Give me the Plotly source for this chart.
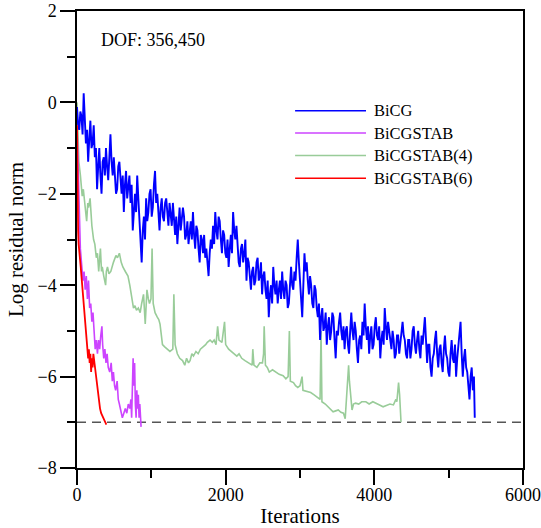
import plotly.graph_objects as go

# ---------------- data ----------------
bicg_iter = list(range(0, 5341, 15)) + [5351]
bicg_logres = [
    -0.1, -0.5, -0.6, -0.2, -0.3, -0.7, 0.2, -0.5, -0.9, -0.6,
    -1.3, -0.8, -0.4, -1.0, -0.9, -0.5, -1.2, -1.0, -1.9, -1.4,
    -1.0, -1.6, -2.0, -1.3, -1.2, -1.6, -1.0, -1.4, -1.7, -1.2,
    -0.7, -1.3, -1.6, -1.2, -1.5, -2.0, -1.9, -1.4, -1.3, -1.8,
    -2.0, -1.6, -2.4, -1.8, -1.5, -2.1, -1.9, -1.6, -2.2, -1.8,
    -2.8, -2.3, -2.0, -2.4, -1.6, -2.1, -2.6, -3.0, -3.5, -2.8,
    -2.5, -3.0, -2.1, -2.6, -2.4, -2.0, -1.9, -2.5, -2.3, -1.8,
    -1.5, -2.2, -2.0, -2.4, -2.8, -2.3, -2.1, -2.5, -2.6, -2.2,
    -2.1, -2.4, -2.7, -2.2, -2.4, -2.7, -2.2, -2.6, -2.9, -2.5,
    -3.1, -2.7, -2.3, -2.8, -2.6, -2.3, -2.5, -3.0, -2.9, -2.6,
    -3.1, -2.8, -2.6, -3.0, -2.4, -2.9, -3.2, -2.7, -2.8, -3.2,
    -3.5, -2.9, -3.0, -3.3, -2.9, -3.4, -3.2, -3.5, -3.8, -3.3,
    -3.0, -3.2, -2.7, -3.1, -2.4, -2.8, -3.0, -2.5, -2.6, -3.0,
    -3.3, -2.8, -2.9, -3.3, -3.4, -3.0, -3.6, -3.2, -2.9, -3.3,
    -2.4, -2.8, -3.0, -2.7, -3.2, -3.5, -3.6, -3.2, -3.1, -3.5,
    -3.3, -3.0, -3.9, -3.4, -3.5, -3.9, -4.1, -3.7, -3.6, -4.0,
    -3.9, -3.5, -3.4, -3.9, -3.8, -3.5, -4.2, -3.8, -3.7, -4.1,
    -4.3, -3.9, -4.7, -4.2, -4.0, -4.4, -3.6, -4.0, -4.2, -3.9,
    -4.4, -4.1, -3.9, -4.3, -3.7, -4.1, -4.3, -3.9, -4.0, -4.5,
    -4.4, -4.0, -3.6, -4.0, -4.1, -3.7, -3.9, -3.4, -3.0, -3.5,
    -3.8, -4.3, -4.7, -3.9, -3.3, -3.7, -3.5, -3.9, -4.2, -3.8,
    -4.0, -4.4, -4.5, -4.0, -4.1, -4.5, -4.7, -4.4, -5.2, -4.7,
    -4.5, -5.0, -4.9, -4.6, -5.3, -4.9, -4.7, -5.2, -5.0, -4.6,
    -4.7, -5.2, -5.6, -5.0, -5.1, -4.8, -4.6, -5.0, -5.2, -4.9,
    -5.4, -5.0, -4.9, -5.3, -5.5, -5.0, -4.6, -5.0, -5.2, -4.8,
    -5.0, -5.4, -5.7, -5.2, -5.1, -5.4, -4.8, -5.1, -4.4, -4.9,
    -5.2, -4.9, -5.5, -5.1, -4.9, -5.4, -5.3, -4.9, -4.7, -5.1,
    -5.2, -4.9, -5.6, -5.2, -5.0, -5.3, -4.5, -4.9, -5.2, -4.8,
    -5.0, -5.3, -5.4, -5.0, -5.2, -5.6, -5.5, -5.1, -5.1, -5.5,
    -5.3, -5.0, -4.8, -5.1, -5.2, -5.5, -5.6, -5.2, -5.2, -5.6,
    -5.4, -5.0, -4.9, -5.3, -5.5, -5.2, -5.0, -5.4, -5.6, -5.1,
    -5.3, -5.0, -4.7, -5.2, -5.7, -5.3, -5.3, -5.8, -6.0, -5.6,
    -5.5, -5.2, -5.0, -5.5, -5.8, -5.4, -5.3, -5.7, -5.9, -5.4,
    -5.1, -5.5, -5.6, -5.9, -6.0, -5.5, -5.2, -5.6, -5.7, -5.3,
    -6.0, -5.6, -5.3, -4.9, -4.8, -5.5, -6.0, -5.6, -5.4, -5.8,
    -5.9, -6.2, -6.5, -6.0, -5.8, -6.3, -6.0,
    -6.9,
]

bicgstab_iter = [
    0, 8, 15, 25, 35, 45, 55, 65, 80, 95, 110, 125, 140, 155, 170, 185,
    200, 215, 230, 245, 260, 275, 290, 305, 320, 335, 345, 360, 375, 390,
    405, 420, 440, 460, 475, 490, 505, 520, 540, 555, 570, 590, 610, 630,
    650, 670, 690, 710, 725, 735, 745, 755, 765, 775, 785, 795, 805, 815,
    825, 835, 845, 855, 862,
]
bicgstab_logres = [
    -0.5, -1.0, -1.6, -2.3, -2.6, -3.2, -3.4, -3.6, -3.9, -3.7, -4.1, -3.8,
    -4.3, -3.9, -4.5, -4.4, -4.8, -4.6, -5.2, -5.4, -5.2, -5.5, -5.2, -5.4,
    -5.1, -4.9, -5.3, -5.6, -5.4, -5.7, -5.5, -5.8, -5.9, -5.7, -6.1, -5.9,
    -6.2, -6.3, -6.1, -6.5, -6.6, -6.8, -6.9, -6.8, -6.7, -6.8, -6.6, -6.7,
    -6.5, -6.9, -6.0, -5.6, -6.2, -5.7, -6.6, -6.9, -6.3, -6.7, -6.4, -6.9,
    -6.6, -6.9, -7.1,
]

bicgstab4_iter = [
    0, 10, 25, 46, 70, 85, 100, 115, 130, 145, 155, 176, 190, 200, 223, 240,
    260, 275, 292, 315, 330, 340, 360, 385, 395, 410, 430, 455, 490, 524,
    545, 570, 595, 617, 650, 686, 710, 733, 760, 780, 800, 825, 850, 870,
    895, 918, 930, 941, 960, 975, 995, 1010, 1025, 1050, 1080, 1100, 1117,
    1135, 1150, 1180, 1220, 1250, 1289, 1303, 1320, 1350, 1382, 1420, 1450,
    1474, 1500, 1521, 1545, 1567, 1600, 1630, 1660, 1700, 1730, 1753, 1790,
    1820, 1845, 1870, 1892, 1910, 1950, 1985, 2000, 2040, 2077, 2110, 2150,
    2180, 2216, 2260, 2300, 2356, 2365, 2380, 2420, 2460, 2495, 2510, 2518,
    2535, 2560, 2587, 2630, 2680, 2720, 2773, 2810, 2840, 2857, 2870, 2912,
    2940, 2970, 3000, 3028, 3040, 3090, 3144, 3190, 3237, 3270, 3283, 3295,
    3340, 3376, 3410, 3445, 3480, 3515, 3550, 3585, 3608, 3631, 3654, 3665,
    3675, 3700, 3720, 3747, 3790, 3830, 3886, 3930, 3980, 4025, 4070, 4118,
    4160, 4210, 4257, 4290, 4303, 4326, 4340, 4349, 4359,
]
bicgstab4_logres = [
    0.0, -0.8, -1.3, -1.6, -2.05, -1.9, -2.1, -2.3, -2.6, -2.2, -2.3, -2.1,
    -2.6, -2.7, -3.0, -3.1, -3.4, -3.3, -3.7, -3.2, -3.7, -3.6, -3.8, -4.0,
    -3.7, -3.6, -3.75, -3.7, -3.5, -3.35, -3.4, -3.3, -3.5, -3.6, -3.7, -3.8,
    -4.0, -4.2, -4.5, -4.45, -4.55, -4.5, -4.6, -4.4, -4.2, -4.85, -4.3, -4.1,
    -4.3, -4.4, -4.3, -3.2, -4.4, -4.6, -4.7, -4.75, -4.85, -5.1, -5.3, -5.35,
    -5.4, -5.45, -5.4, -4.2, -5.3, -5.5, -5.6, -5.65, -5.75, -5.6, -5.7,
    -5.65, -5.5, -5.55, -5.45, -5.5, -5.4, -5.35, -5.3, -5.25, -5.2, -5.25,
    -5.2, -5.3, -4.9, -5.2, -5.25, -4.8, -5.3, -5.4, -5.45, -5.5, -5.55,
    -5.5, -5.6, -5.65, -5.7, -5.75, -5.4, -5.75, -5.8, -5.7, -5.7, -5.5,
    -4.9, -5.75, -5.8, -5.9, -5.85, -5.9, -5.95, -5.98, -6.05, -6.0, -5.0,
    -6.1, -6.13, -6.2, -6.24, -6.2, -6.0, -6.3, -6.32, -6.35, -6.4, -6.47,
    -6.5, -5.0, -6.55, -6.6, -6.66, -6.7, -6.77, -6.75, -6.73, -6.78, -6.8,
    -6.92, -6.2, -5.75, -6.1, -6.28, -6.73, -6.6, -6.58, -6.6, -6.55, -6.55,
    -6.6, -6.55, -6.58, -6.62, -6.66, -6.63, -6.6, -6.62, -6.5, -6.55, -6.13,
    -6.4, -6.7, -7.0,
]

bicgstab6_iter = [
    0, 3, 6, 10, 15, 22, 30, 40, 50, 60, 70, 80, 90, 100, 110, 120, 130,
    140, 150, 160, 170, 180, 190, 200, 210, 220, 235, 250, 265, 280, 295,
    310, 325, 340, 355, 370, 385, 395,
]
bicgstab6_logres = [
    -0.5, -1.2, -1.9, -2.5, -2.8, -3.1, -3.3, -3.5, -3.6, -3.8, -4.0, -4.1,
    -4.4, -4.6, -4.8, -5.0, -5.3, -5.4, -5.6, -5.4, -5.7, -5.5, -5.9, -5.6,
    -5.8, -5.5, -5.7, -5.9, -6.1, -6.3, -6.6, -6.7, -6.8, -6.85, -6.9,
    -6.95, -7.0, -7.05,
]

series_names = ["BiCG", "BiCGSTAB", "BiCGSTAB(4)", "BiCGSTAB(6)"]
tolerance_log = -7
x_range = [0, 6000]
y_range = [-8, 2]
dof_label = "DOF: 356,450"

# ---------------- styles ----------------
colors = ["#0000FF", "#CC44FF", "#99CC99", "#FF0000"]
widths = [1.9, 1.6, 1.6, 1.8]
FONT = "Liberation Serif"

fig = go.Figure()
# convergence threshold
fig.add_trace(go.Scatter(x=x_range, y=[tolerance_log, tolerance_log], mode="lines",
                         line=dict(color="#555555", width=1.5, dash="9px,6px"),
                         hoverinfo="skip", showlegend=False))

data = [
    (bicg_iter, bicg_logres),
    (bicgstab_iter, bicgstab_logres),
    (bicgstab4_iter, bicgstab4_logres),
    (bicgstab6_iter, bicgstab6_logres),
]
order = [2, 0, 1, 3]
for i in order:
    xs, ys = data[i]
    fig.add_trace(go.Scatter(x=xs, y=ys, mode="lines", name=series_names[i],
                             line=dict(color=colors[i], width=widths[i]),
                             showlegend=False))

# manual legend (long line samples as in the reference)
leg_y = [0.782, 0.733, 0.684, 0.634]
for i, name in enumerate(series_names):
    fig.add_shape(type="line", xref="paper", yref="paper",
                  x0=0.489, x1=0.648, y0=leg_y[i], y1=leg_y[i],
                  line=dict(color=colors[i], width=1.5))
    fig.add_annotation(xref="paper", yref="paper", x=0.661, y=leg_y[i],
                       text=name, showarrow=False, xanchor="left", yanchor="middle",
                       font=dict(family=FONT, size=16.5, color="black"))

fig.add_annotation(xref="paper", yref="paper", x=0.05, y=0.937, text=dof_label,
                   showarrow=False, xanchor="left", yanchor="middle",
                   font=dict(family=FONT, size=18, color="black"))

axis_common = dict(showline=True, linecolor="black", linewidth=1.5, mirror=True,
                   showgrid=False, zeroline=False, ticks="outside", ticklen=15,
                   tickwidth=1.5, tickcolor="black", automargin=False,
                   tickfont=dict(family=FONT, size=18, color="black"))

fig.update_xaxes(range=x_range, tickmode="linear", tick0=0, dtick=2000,
                 ticklabelstandoff=-5,
                 minor=dict(dtick=1000, tick0=0, ticks="outside", ticklen=8,
                            tickwidth=1.5, tickcolor="black", showgrid=False),
                 title=dict(text="Iterations", font=dict(family=FONT, size=21),
                            standoff=6),
                 **axis_common)
fig.update_yaxes(range=y_range, tickmode="linear", tick0=0, dtick=2,
                 minor=dict(dtick=1, tick0=0, ticks="outside", ticklen=8,
                            tickwidth=1.5, tickcolor="black", showgrid=False),
                 title=dict(text="Log residual norm", font=dict(family=FONT, size=21),
                            standoff=8),
                 **axis_common)

fig.update_layout(width=541, height=528,
                  margin=dict(l=77, r=18, t=11, b=60),
                  plot_bgcolor="white", paper_bgcolor="white",
                  font=dict(family=FONT, color="black"),
                  showlegend=False)

fig.write_html("out.html", config={"displayModeBar": False},
               post_script="document.body.style.margin='0';document.body.style.overflow='hidden';")
